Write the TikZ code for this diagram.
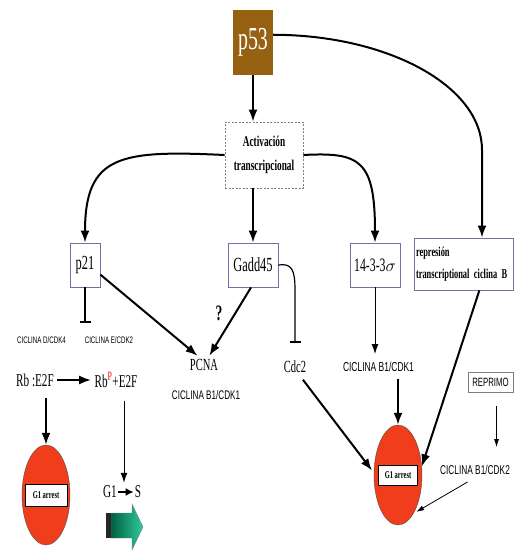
\documentclass[tikz,border=0pt]{standalone}
\usepackage{fontspec}
\setmainfont{Liberation Serif}[FakeStretch=0.62]
\newfontfamily\cycfont{Liberation Sans}[FakeStretch=0.65]
\usetikzlibrary{arrows.meta,shapes.geometric}
\definecolor{p53brown}{RGB}{150,98,18}
\definecolor{boxblue}{RGB}{112,112,168}
\definecolor{arrestred}{RGB}{240,62,28}
\definecolor{sdark}{RGB}{0,95,65}
\definecolor{slight}{RGB}{45,205,155}

\begin{document}
\begin{tikzpicture}[x=1pt,y=1pt,
	gene/.style={draw=boxblue, line width=0.8pt, fill=white, minimum height=44pt, inner sep=2pt},
	thickarr/.style={line width=2pt, -{Latex[length=12pt,width=9pt]}},
	thinarr/.style={line width=1pt, -{Latex[length=10pt,width=7pt]}},
	block/.style={line width=1.2pt, -{Bar[width=11pt,line width=1.6pt]}},
	cyc/.style={font=\cycfont\fontsize{#1}{#1}\selectfont, inner sep=1pt},
	arrest/.style={ellipse, draw=black!70, fill=arrestred, minimum width=48pt, minimum height=100pt, inner sep=0pt},
	arrestlbl/.style={draw=black, line width=0.8pt, fill=white, font=\bfseries\fontsize{10.5}{10.5}\selectfont, inner sep=0pt}]
	%%%%% START %%%%%
	\useasboundingbox (0,0) rectangle (514,-554);
	
	\node[fill=p53brown, minimum width=40pt, minimum height=65pt, inner sep=0pt, text=white, font=\fontsize{32}{32}\selectfont] (p53) at (253,-42.5) {p53};
	\node[draw=gray, dash pattern=on 2pt off 1.5pt, line width=0.8pt, minimum width=78pt, minimum height=66pt, align=center, font=\bfseries\fontsize{15}{24}\selectfont] (act) at (264,-155) {Activación\\transcripcional};
	
	\node[gene, minimum width=30pt, font=\fontsize{20}{20}\selectfont] (p21) at (85,-265) {p21};
	\node[gene, minimum width=50pt, font=\fontsize{20}{20}\selectfont] (gadd) at (253,-265) {Gadd45};
	\node[gene, minimum width=50pt, font=\fontsize{19}{19}\selectfont] (sigma) at (375,-265) {14-3-3$\sigma$};
	\node[gene, minimum height=52pt, text width=95pt, align=left, font=\bfseries\fontsize{13.5}{22}\selectfont] (rep) at (463.5,-264) {represión\\transcriptional ciclina B};
	
	\node[cyc=9.5] (cdk4) at (41.5,-340) {CICLINA D/CDK4};
	\node[cyc=9.5] (cdk2) at (109,-340) {CICLINA E/CDK2};
	\node[font=\fontsize{17}{17}\selectfont] (pcna) at (204,-365) {PCNA};
	\node[cyc=12.5] (cdk1a) at (206,-395) {CICLINA B1/CDK1};
	\node[font=\bfseries\fontsize{22}{22}\selectfont] (q) at (219,-313) {?};
	\node[font=\fontsize{17}{17}\selectfont] (cdc2) at (295,-367) {Cdc2};
	\node[cyc=13] (cdk1b) at (378.5,-367) {CICLINA B1/CDK1};
	\node[draw=gray, line width=0.6pt, cyc=12, minimum width=45pt, minimum height=20pt] (reprimo) at (490.5,-382) {REPRIMO};
	\node[cyc=12.8] (cdk2b) at (475,-470) {CICLINA B1/CDK2};
	
	\node[font=\fontsize{18}{18}\selectfont] (rb) at (35,-380) {Rb :E2F};
	\node[font=\fontsize{18}{18}\selectfont] (rbp) at (116,-380) {Rb\textsuperscript{\color{red}P}+E2F};
	\node[font=\fontsize{18}{18}\selectfont, inner sep=1pt] (g1) at (110,-492) {G1};
	\node[font=\fontsize{18}{18}\selectfont, inner sep=1pt] (s) at (138,-492) {S};
	
	\node[arrest] (g1l) at (46,-495) {};
	\node[arrestlbl, minimum width=42pt, minimum height=22pt] (g1llbl) at (g1l) {G1 arrest};
	\node[arrest] (g1r) at (398,-475) {};
	\node[arrestlbl, minimum width=39pt, minimum height=20pt] (g1rlbl) at (g1r) {G1 arrest};
	
	% G1 -> S block arrow
	\shade[left color=sdark, right color=slight, draw=black!50] (111,-513) -- (132,-513) -- (132,-504) -- (143,-527) -- (132,-550) -- (132,-538) -- (111,-538) -- cycle;
	\fill[black!85] (106,-513) rectangle (111,-538);
	
	% connectors
	\coordinate (bend) at (482,-150);
	\coordinate (p21stop) at (85,-323);
	\coordinate (cdc2stop) at (295,-343);
	
	\draw[thickarr] (p53.south) -- (p53.south |- act.north);
	\draw[thickarr] (p53.21) .. controls (388,-35) and (482,-86) .. (bend) -- (bend |- rep.north);
	\draw[thickarr] (act.west) .. controls (120,-150) and (85,-155) .. (p21.north);
	\draw[thickarr] (act.south -| gadd.north) -- (gadd.north);
	\draw[thickarr] (act.east) .. controls (360,-152) and (375,-160) .. (sigma.north);
	
	\draw[block] (p21.south) -- (p21stop);
	\draw[block] (gadd.east) .. controls (292,-263) and (295,-270) .. (295,-290) -- (cdc2stop);
	\draw[thickarr] (p21.-32) -- (pcna.125);
	\draw[thickarr] (gadd.-95) -- (pcna.60);
	\draw[thinarr, shorten >=7pt] (sigma.south) -- (sigma.south |- cdk1b.north);
	
	\draw[thickarr] (rb.east) -- (rbp.west);
	\draw[thickarr, shorten <=8pt] (rb.south -| g1l.north) -- (g1l.north);
	\draw[thinarr, shorten <=10pt, shorten >=2pt] ([xshift=8pt]rbp.south) -- ([xshift=8pt]rbp.south |- g1.north);
	\draw[line width=2pt, -{Latex[length=8pt,width=8pt]}] (g1) -- (s);
	
	\draw[thickarr, shorten <=4pt, shorten >=3pt] (cdc2.-60) -- (g1r.175);
	\draw[thickarr, shorten <=6pt] (g1r.north |- cdk1b.south) -- (g1r.north);
	\draw[thickarr] (rep.-59) -- (g1r.20);
	\draw[line width=0.8pt, -{Latex[length=8pt,width=5pt]}, shorten <=14pt, shorten >=17pt] ([xshift=6pt]reprimo.south) -- ([xshift=6pt]reprimo.south |- cdk2b.north);
	\draw[line width=0.8pt, -{Latex[length=8pt,width=5pt]}, shorten <=12pt, shorten >=3pt] ([xshift=3pt]cdk2b.south) -- (g1r.-68);
	%%%%% END %%%%%
\end{tikzpicture}
\end{document}
